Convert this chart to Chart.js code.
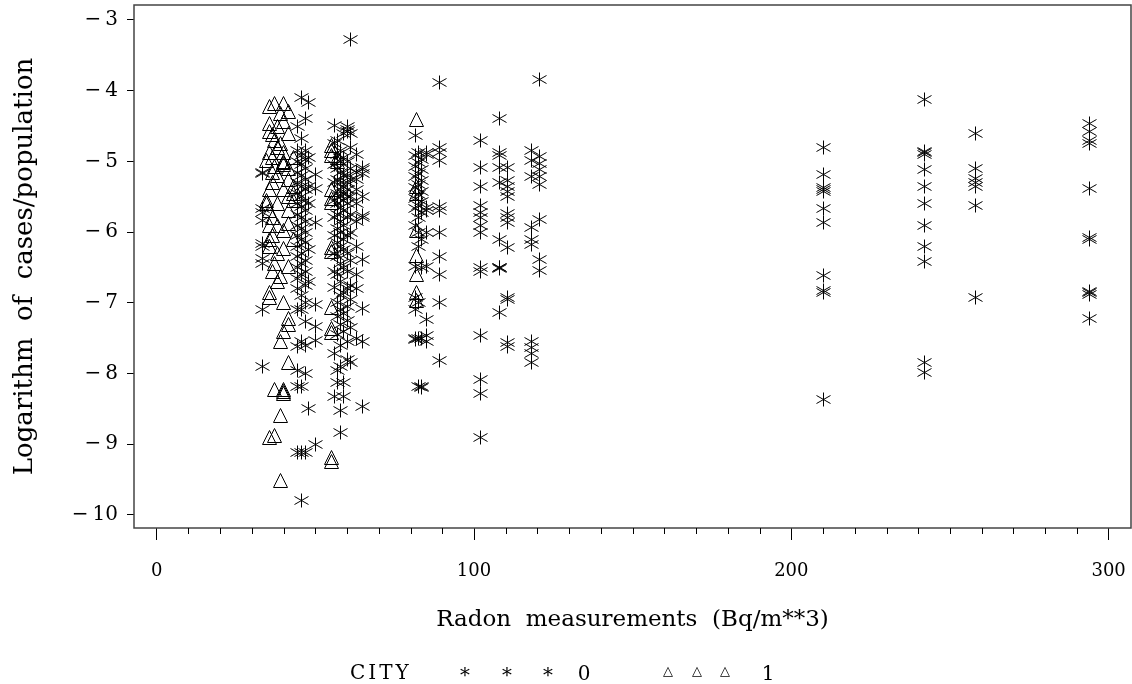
<!DOCTYPE html>
<html>
<head>
<meta charset="utf-8">
<script src="https://cdn.jsdelivr.net/npm/chart.js@4/dist/chart.umd.min.js"></script>
<style>
    html, body { margin: 0; padding: 0; background: #fff; }
    #wrap { width: 1132px; height: 684px; }
</style>
</head>
<body>
<div id="wrap"><canvas id="radonChart" width="1132" height="684"></canvas></div>
<script>
// Each column: [radon measurement, [log(cases/population), ...]]
const city0Columns = [
    [33.5, [-5.15, -5.17, -5.66, -5.72, -5.83, -6.16, -6.21, -6.37, -6.45, -7.1, -7.9]],
    [44.5, [-4.5, -4.84, -5.0, -5.15, -5.3, -5.45, -5.6, -5.75, -5.9, -6.05, -6.2, -6.35, -6.5, -6.65, -6.8, -7.1, -7.62, -7.95, -8.19, -9.11]],
    [45.5, [-4.09, -4.67, -4.92, -5.05, -5.2, -5.36, -5.5, -5.64, -5.8, -5.95, -6.1, -6.3, -6.45, -6.6, -6.9, -7.1, -7.55, -8.19, -9.11, -9.79]],
    [47, [-4.39, -4.84, -4.97, -5.1, -5.25, -5.4, -5.55, -5.7, -5.85, -6.0, -6.15, -6.4, -6.55, -6.75, -7.0, -7.27, -7.6, -8.0, -9.11]],
    [48, [-4.16, -4.94, -5.35, -5.6, -6.25, -6.7, -8.49]],
    [50, [-5.19, -5.38, -5.87, -7.03, -7.34, -7.53, -9.01]],
    [56, [-4.49, -4.75, -5.05, -5.3, -5.55, -5.8, -6.05, -6.3, -6.55, -6.78, -7.71, -8.33]],
    [57, [-4.7, -4.9, -5.1, -5.25, -5.45, -5.6, -5.75, -5.95, -6.15, -6.35, -6.6, -7.0, -7.2, -7.45, -7.95, -8.13]],
    [58, [-4.85, -5.0, -5.15, -5.3, -5.4, -5.5, -5.65, -5.85, -6.0, -6.2, -6.45, -6.7, -6.9, -7.1, -7.3, -7.6, -7.9, -8.52, -8.83]],
    [59, [-4.6, -4.95, -5.2, -5.35, -5.45, -5.55, -5.7, -5.9, -6.1, -6.25, -6.5, -6.85, -7.15, -7.4, -8.13, -8.33]],
    [60, [-4.51, -4.55, -4.58, -5.0, -5.2, -5.3, -5.4, -5.5, -5.6, -5.8, -6.05, -6.3, -6.55, -6.8, -7.05, -7.25, -7.55, -7.8]],
    [61, [-3.28, -4.6, -4.8, -5.1, -5.25, -5.5, -5.75, -6.0, -6.4, -6.75, -6.95, -7.35, -7.85]],
    [63, [-4.9, -5.15, -5.25, -5.4, -5.6, -5.85, -6.2, -6.6, -6.8, -7.5]],
    [65, [-5.08, -5.12, -5.17, -5.5, -5.76, -5.8, -6.39, -7.08, -7.55, -8.47]],
    [81.5, [-4.63, -4.92, -5.07, -5.22, -5.37, -5.52, -5.67, -5.9, -6.48, -6.93, -7.1, -7.5, -7.52]],
    [82.5, [-4.87, -5.02, -5.17, -5.32, -5.47, -5.62, -5.8, -6.0, -6.2, -7.0, -7.5, -8.19]],
    [83.5, [-4.97, -5.12, -5.27, -5.42, -5.57, -5.72, -6.1, -6.5, -7.5, -8.19, -8.2]],
    [85, [-4.88, -4.9, -5.65, -5.7, -6.0, -6.48, -7.24, -7.46, -7.55]],
    [89, [-3.88, -4.8, -4.88, -4.98, -5.64, -5.69, -6.0, -6.35, -6.6, -7.0, -7.81]],
    [102, [-4.71, -5.08, -5.36, -5.62, -5.72, -5.8, -5.9, -6.0, -6.5, -6.55, -7.46, -8.09, -8.28, -8.91]],
    [108, [-4.39, -4.88, -4.92, -5.08, -5.3, -6.11, -6.5, -6.5, -6.52, -7.14]],
    [110.5, [-5.08, -5.27, -5.35, -5.42, -5.5, -5.73, -5.8, -5.86, -6.22, -6.93, -6.95, -7.56, -7.62]],
    [118, [-4.84, -4.98, -5.22, -5.93, -6.11, -6.18, -7.54, -7.63, -7.72, -7.85]],
    [120.5, [-3.84, -4.93, -5.03, -5.12, -5.22, -5.33, -5.82, -6.38, -6.54]],
    [210, [-4.81, -5.18, -5.37, -5.4, -5.42, -5.66, -5.87, -6.62, -6.82, -6.85, -8.36]],
    [242, [-4.12, -4.86, -4.88, -4.9, -5.12, -5.35, -5.6, -5.91, -6.2, -6.42, -7.85, -7.99]],
    [258, [-4.6, -5.1, -5.24, -5.3, -5.35, -5.62, -6.92]],
    [294, [-4.46, -4.57, -4.7, -4.74, -5.39, -6.07, -6.1, -6.84, -6.86, -6.88, -7.22]]
];

const city1Columns = [
    [34.5, [-4.98, -5.55, -5.6]],
    [35.5, [-4.23, -4.46, -4.58, -4.87, -5.4, -5.69, -5.9, -6.1, -6.21, -6.86, -6.92, -8.9]],
    [36.5, [-4.62, -4.95, -5.15, -5.3, -5.8, -6.05, -6.55]],
    [37, [-4.18, -4.7, -5.07, -6.44, -8.23, -8.87]],
    [38, [-4.5, -4.8, -5.2, -5.6, -5.9, -6.3, -6.7]],
    [39, [-4.32, -4.74, -6.63, -7.55, -8.59, -9.51]],
    [40, [-4.18, -4.44, -4.87, -5.0, -5.02, -5.04, -5.4, -5.97, -6.23, -6.99, -7.41, -8.23, -8.25, -8.28]],
    [41.5, [-4.3, -4.6, -5.1, -5.26, -5.5, -5.7, -5.88, -6.49, -7.22, -7.31, -7.85]],
    [43, [-4.95, -5.35, -5.45, -5.55, -6.1]],
    [55, [-4.78, -4.85, -4.92, -5.4, -5.52, -5.58, -6.22, -6.28, -7.06, -7.36, -7.42, -9.18, -9.25]],
    [57, [-4.95, -5.0]],
    [82, [-4.41, -5.35, -5.45, -5.97, -6.33, -6.6, -6.85, -6.96]]
];

const xMajorTicks = [0, 100, 200, 300];
const xMinorTicks = [10, 20, 30, 40, 50, 60, 70, 80, 90, 110, 120, 130, 140, 150, 160, 170, 180, 190,
    210, 220, 230, 240, 250, 260, 270, 280, 290];
const yTicks = [-10, -9, -8, -7, -6, -5, -4, -3];

const SERIF = '"DejaVu Serif", "Liberation Serif", serif';

function toPoints(columns) {
    const pts = [];
    columns.forEach(([x, ys]) => ys.forEach(y => pts.push({ x: x, y: y })));
    return pts;
}

// six-armed asterisk like the SAS symbol
function makeStar() {
    const c = document.createElement('canvas');
    c.width = 17; c.height = 17;
    const g = c.getContext('2d');
    g.strokeStyle = '#000';
    g.lineWidth = 1;
    g.beginPath();
    g.moveTo(8.5, 1.5); g.lineTo(8.5, 15.5);
    g.moveTo(1.5, 4.5); g.lineTo(15.5, 12.5);
    g.moveTo(1.5, 12.5); g.lineTo(15.5, 4.5);
    g.stroke();
    return c;
}

function makeTriangle() {
    const c = document.createElement('canvas');
    c.width = 17; c.height = 17;
    const g = c.getContext('2d');
    g.strokeStyle = '#000';
    g.lineWidth = 1;
    g.beginPath();
    g.moveTo(8.5, 1.5);
    g.lineTo(15.5, 15.5);
    g.lineTo(1.5, 15.5);
    g.closePath();
    g.stroke();
    return c;
}

// frame, minor x ticks and the CITY legend
const decorPlugin = {
    id: 'decor',
    beforeDatasetsDraw(chart) {
        chart.ctx.imageSmoothingEnabled = false;
    },
    afterDatasetsDraw(chart) {
        chart.ctx.imageSmoothingEnabled = true;
    },
    afterDraw(chart) {
        const ctx = chart.ctx;
        const a = chart.chartArea;
        const xs = chart.scales.x;
        ctx.save();
        ctx.strokeStyle = '#444';
        ctx.lineWidth = 1.5;
        ctx.strokeRect(a.left, a.top, a.right - a.left, a.bottom - a.top);

        ctx.strokeStyle = '#000';
        ctx.lineWidth = 1;
        ctx.beginPath();
        xMinorTicks.forEach(v => {
            const px = Math.round(xs.getPixelForValue(v)) + 0.5;
            ctx.moveTo(px, a.bottom);
            ctx.lineTo(px, a.bottom + 6);
        });
        ctx.stroke();

        ctx.fillStyle = '#000';
        ctx.textBaseline = 'alphabetic';
        ctx.font = '20px ' + SERIF;
        ctx.textAlign = 'left';
        ctx.letterSpacing = '3px';
        ctx.fillText('CITY', 350, 679);
        ctx.letterSpacing = '0px';
        ctx.textAlign = 'center';
        ctx.fillText('0', 584, 680);
        ctx.fillText('1', 768, 680);
        ctx.font = '20px ' + SERIF;
        [465, 507, 548].forEach(x => ctx.fillText('\u2217', x, 678));
        ctx.font = '13px "DejaVu Sans", sans-serif';
        [668, 697, 725].forEach(x => ctx.fillText('\u25B3', x, 675));
        ctx.restore();
    }
};

function init() {
    const ctx = document.getElementById('radonChart').getContext('2d');
    new Chart(ctx, {
        type: 'scatter',
        data: {
            datasets: [
                { label: '0', data: toPoints(city0Columns), pointStyle: makeStar(), pointRadius: 7 },
                { label: '1', data: toPoints(city1Columns), pointStyle: makeTriangle(), pointRadius: 7 }
            ]
        },
        options: {
            responsive: false,
            animation: false,
            devicePixelRatio: 1,
            layout: { autoPadding: false, padding: { top: 5, right: 1, left: 0, bottom: 0 } },
            plugins: { legend: { display: false }, tooltip: { enabled: false } },
            scales: {
                x: {
                    type: 'linear',
                    min: -7.15,
                    max: 307.05,
                    afterBuildTicks: s => { s.ticks = xMajorTicks.map(v => ({ value: v })); },
                    afterFit: s => { s.height = 156; s.paddingLeft = 0; s.paddingRight = 0; },
                    border: { display: false },
                    grid: { drawOnChartArea: false, tickLength: 12, tickColor: '#000', tickWidth: 1 },
                    ticks: { color: '#000', font: { family: SERIF, size: 18 }, padding: 21, maxRotation: 0 },
                    title: {
                        display: true,
                        text: 'Radon  measurements  (Bq/m**3)',
                        color: '#000',
                        font: { family: SERIF, size: 23, weight: 'normal' },
                        padding: { top: 0, bottom: 50 }
                    }
                },
                y: {
                    type: 'linear',
                    min: -10.184,
                    max: -2.788,
                    afterBuildTicks: s => { s.ticks = yTicks.map(v => ({ value: v })); },
                    afterFit: s => { s.width = 134; s.paddingTop = 0; s.paddingBottom = 0; },
                    border: { display: false },
                    grid: { drawOnChartArea: false, tickLength: 7, tickColor: '#000', tickWidth: 1 },
                    ticks: {
                        color: '#000',
                        font: { family: SERIF, size: 20 },
                        padding: 9,
                        callback: v => '\u2212\u2009' + Math.abs(v)
                    },
                    title: {
                        display: true,
                        text: 'Logarithm  of  cases/population',
                        color: '#000',
                        font: { family: SERIF, size: 26, weight: 'normal' },
                        padding: { top: 10, bottom: 0 }
                    }
                }
            }
        },
        plugins: [decorPlugin]
    });
}

document.addEventListener('DOMContentLoaded', init);
</script>
</body>
</html>
